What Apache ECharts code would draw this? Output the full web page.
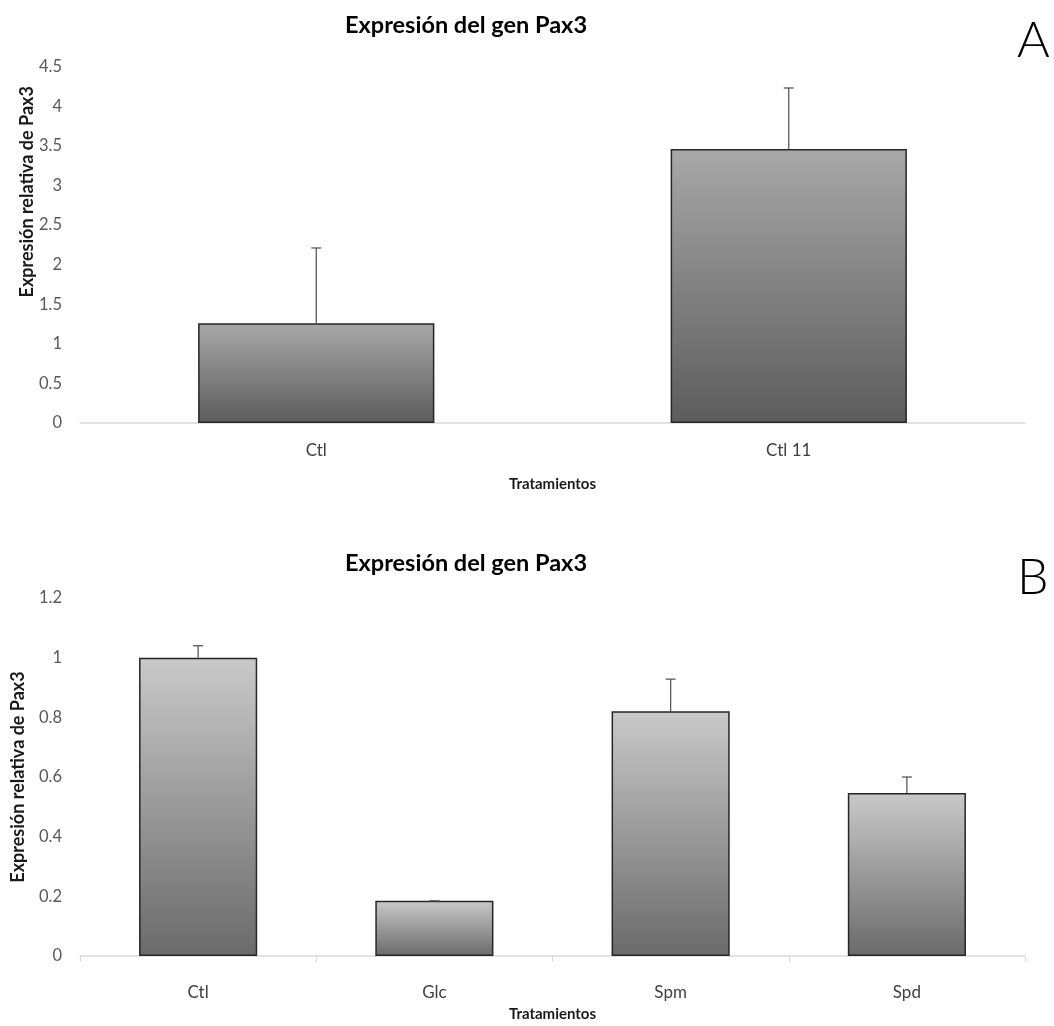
<!DOCTYPE html>
<html>
<head>
<meta charset="utf-8">
<script src="https://cdn.jsdelivr.net/npm/echarts@6/dist/echarts.min.js"></script>
<style>html,body{margin:0;padding:0;background:#fff}#c{width:1054px;height:1026px}</style>
</head>
<body>
<div id="c"></div>
<script>
// Panel A
const catsA = ['Ctl', 'Ctl 11'];
const valsA = [1.26, 3.46];
const errA = [0.95, 0.77];
// Panel B
const catsB = ['Ctl', 'Glc', 'Spm', 'Spd'];
const valsB = [1.0, 0.185, 0.82, 0.546];
const errB = [0.04, 0.0, 0.108, 0.054];

const titleText = 'Expresión del gen Pax3';
const yName = 'Expresión relativa de Pax3';
const xName = 'Tratamientos';

const FONT = 'Lato, "Noto Sans", sans-serif';
const chart = echarts.init(document.getElementById('c'), null, {renderer: 'canvas'});

function grad(top, bottom) {
  return new echarts.graphic.LinearGradient(0, 0, 0, 1, [
    {offset: 0, color: top}, {offset: 1, color: bottom}
  ]);
}
function errItem(params, api) {
  const x = api.value(0), v = api.value(1), e = api.value(2);
  const b = api.coord([x, v]);
  const t = api.coord([x, v + e]);
  const st = {stroke: '#5a5a5a', lineWidth: 1.3};
  return {type: 'group', children: [
    {type: 'line', shape: {x1: b[0], y1: b[1], x2: t[0], y2: t[1]}, style: st},
    {type: 'line', shape: {x1: t[0] - 5, y1: t[1], x2: t[0] + 5, y2: t[1]}, style: st}
  ]};
}
const yLabel = {color: '#595959', fontSize: 16.5, fontFamily: FONT, margin: 18};
const xLabel = {color: '#404040', fontSize: 17, fontFamily: FONT};
const nameStyle = {color: '#1a1a1a', fontSize: 18, fontWeight: 'bold', fontFamily: FONT};
const xNameStyle = {color: '#1a1a1a', fontSize: 15, fontWeight: 'bold', fontFamily: FONT};

chart.setOption({
  animation: false,
  graphic: [
    {type: 'text', left: 345, top: 13, style: {text: titleText, font: 'bold 23.5px ' + FONT, fill: '#000'}},
    {type: 'text', left: 345, top: 551, style: {text: titleText, font: 'bold 23.5px ' + FONT, fill: '#000'}},
    {type: 'text', left: 1017, top: 16, style: {text: 'A', font: '300 50px ' + FONT, fill: '#000'}},
    {type: 'text', left: 1017, top: 553, style: {text: 'B', font: '300 50px ' + FONT, fill: '#000'}}
  ],
  grid: [
    {left: 80, right: 29, top: 66.6, bottom: 603},
    {left: 80, right: 29, top: 598, bottom: 70}
  ],
  xAxis: [
    {type: 'category', gridIndex: 0, data: catsA,
     axisLine: {lineStyle: {color: '#d9d9d9', width: 1.5}}, axisTick: {show: false},
     axisLabel: Object.assign({margin: 19}, xLabel),
     name: xName, nameLocation: 'middle', nameGap: 54, nameTextStyle: xNameStyle},
    {type: 'category', gridIndex: 1, data: catsB,
     axisLine: {lineStyle: {color: '#d9d9d9', width: 1.5}},
     axisTick: {show: true, length: 6, lineStyle: {color: '#d9d9d9'}},
     axisLabel: Object.assign({margin: 28}, xLabel),
     name: xName, nameLocation: 'middle', nameGap: 51, nameTextStyle: xNameStyle}
  ],
  yAxis: [
    {type: 'value', gridIndex: 0, min: 0, max: 4.5, interval: 0.5,
     axisLine: {show: false}, axisTick: {show: false}, splitLine: {show: false},
     axisLabel: yLabel,
     name: yName, nameLocation: 'middle', nameGap: 44, nameMoveOverlap: false,
     nameTextStyle: Object.assign({padding: [0, 0, 0, 106]}, nameStyle)},
    {type: 'value', gridIndex: 1, min: 0, max: 1.2, interval: 0.2,
     axisLine: {show: false}, axisTick: {show: false}, splitLine: {show: false},
     axisLabel: yLabel,
     name: yName, nameLocation: 'middle', nameGap: 53, nameTextStyle: nameStyle}
  ],
  series: [
    {type: 'bar', xAxisIndex: 0, yAxisIndex: 0, barWidth: '50%',
     data: valsA,
     itemStyle: {color: grad('#a8a8a8', '#5c5c5c'), borderColor: '#262626', borderWidth: 1.5}},
    {type: 'custom', xAxisIndex: 0, yAxisIndex: 0, z: 5,
     renderItem: errItem, encode: {x: 0, y: 1},
     data: valsA.map((v, i) => [i, v, errA[i]])},
    {type: 'bar', xAxisIndex: 1, yAxisIndex: 1, barWidth: '50%',
     data: valsB,
     itemStyle: {color: grad('#c9c9c9', '#6a6a6a'), borderColor: '#262626', borderWidth: 1.5}},
    {type: 'custom', xAxisIndex: 1, yAxisIndex: 1, z: 5,
     renderItem: errItem, encode: {x: 0, y: 1},
     data: valsB.map((v, i) => [i, v, errB[i]])}
  ]
});
</script>
</body>
</html>
